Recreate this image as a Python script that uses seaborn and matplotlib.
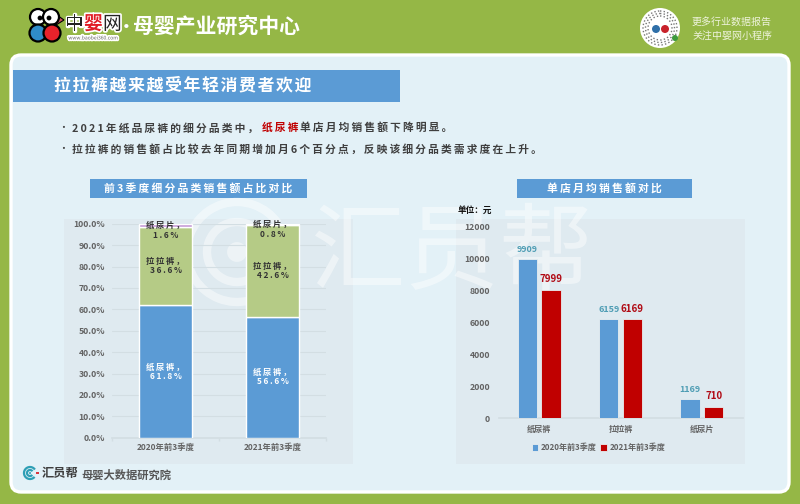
import matplotlib
matplotlib.use("Agg")
import matplotlib.pyplot as plt
import matplotlib.patheffects as pe
import pandas as pd
import seaborn as sns
from matplotlib.patches import Arc, Circle, FancyBboxPatch, Polygon, Rectangle

W, H = 800, 504

# chart data
quarters = ["2020年前3季度", "2021年前3季度"]
share_diaper = [61.8, 56.6]
share_pull = [36.6, 42.6]
share_pad = [1.6, 0.8]

products = ["纸尿裤", "拉拉裤", "纸尿片"]
sales_2020 = [9909, 6159, 1169]
sales_2021 = [7999, 6169, 710]

GREEN = "#95B746"
PANEL = "#E3F1F7"
CHART_BG = "#DFEAF0"
BLUE = "#5B9BD5"
RED = "#C00000"
LIGHT_GREEN = "#B5CB86"
PURPLE = "#C59BD6"
TICK = "#636363"
DARK = "#3F3F3F"

sns.set_theme(style="white")
plt.rcParams["font.family"] = ["Noto Sans CJK SC", "DejaVu Sans"]
plt.rcParams["axes.unicode_minus"] = False


def spaced(text, gap="\u2009"):
    # the original has wide letter spacing
    return gap.join(text)


def px_axes(fig, x0, y0, x1, y1):
    return fig.add_axes([x0 / W, 1 - y1 / H, (x1 - x0) / W, (y1 - y0) / H])


def ring_logo(ax, cx, cy, radii, lw, color, alpha=1.0):
    for r in radii:
        ax.add_patch(Arc((cx, cy), 2 * r, 2 * r, theta1=40, theta2=325, lw=lw, color=color, alpha=alpha))
    ax.add_patch(Circle((cx, cy), radii[-1] * 0.33, color=color, alpha=alpha, lw=0))


fig = plt.figure(figsize=(W / 100, H / 100), dpi=100, facecolor=GREEN)

# page furniture, in pixel coordinates
bg = fig.add_axes([0, 0, 1, 1])
bg.set_xlim(0, W)
bg.set_ylim(H, 0)
bg.axis("off")

bg.add_patch(FancyBboxPatch((11, 55), 778, 437, boxstyle="round,pad=0,rounding_size=10",
                            fc=PANEL, ec="white", lw=2.4))
bg.add_patch(Rectangle((13, 70), 387, 32, fc=BLUE, lw=0))
bg.text(54, 85, spaced("拉拉裤越来越受年轻消费者欢迎", "\u200a"), color="white", fontsize=12.2,
        fontweight="bold", ha="left", va="center")

# bullets
bg.text(63, 128, "•", color=DARK, fontsize=7, ha="center", va="center")
bg.text(63, 149, "•", color=DARK, fontsize=7, ha="center", va="center")
seg1 = bg.text(72, 128, spaced("2021年纸品尿裤的细分品类中，"), color=DARK, fontsize=7.72,
               fontweight="bold", ha="left", va="center")
seg2 = bg.annotate(spaced("纸尿裤"), xy=(1, 0.5), xycoords=seg1, xytext=(2.5, 0), textcoords="offset points",
                   color=RED, fontsize=7.72, fontweight="bold", ha="left", va="center")
bg.annotate(spaced("单店月均销售额下降明显。"), xy=(1, 0.5), xycoords=seg2, xytext=(1.5, 0),
            textcoords="offset points", color=DARK, fontsize=7.72, fontweight="bold",
            ha="left", va="center")
bg.text(72, 149, spaced("拉拉裤的销售额占比较去年同期增加月6个百分点，反映该细分品类需求度在上升。"),
        color=DARK, fontsize=7.72, fontweight="bold", ha="left", va="center")

# chart cards and titles
bg.add_patch(Rectangle((64, 219), 289, 245, fc=CHART_BG, lw=0))
bg.add_patch(Rectangle((456, 219), 289, 245, fc=CHART_BG, lw=0))
bg.add_patch(Rectangle((90, 179), 217, 19, fc=BLUE, lw=0))
bg.add_patch(Rectangle((517, 179), 175, 19, fc=BLUE, lw=0))
bg.text(198.5, 188.5, spaced("前3季度细分品类销售额占比对比"), color="white", fontsize=7.8,
        fontweight="bold", ha="center", va="center")
bg.text(604.5, 188.5, spaced("单店月均销售额对比"), color="white", fontsize=7.8,
        fontweight="bold", ha="center", va="center")

# watermark
ring_logo(bg, 237, 252, [50, 30], 6, "white", 0.45)
bg.text(452, 255, "汇员帮", color="white", alpha=0.45, fontsize=68, fontweight=500, ha="center", va="center")

# header logo
halo = [pe.withStroke(linewidth=2.5, foreground="white")]
bg.add_patch(Polygon([[54, 13], [64, 20], [56, 25]], fc="#C8505A", ec="black", lw=0.8))
for cx, cy, r, c in [(38, 17, 8, "white"), (51, 17, 8, "white"), (38, 33, 8.5, "#2F8CC8"), (52, 33, 8.5, "#E8222B")]:
    bg.add_patch(Circle((cx, cy), r, fc=c, ec="black", lw=1.6))
bg.add_patch(Circle((40, 18), 2.4, fc="black", lw=0))
bg.add_patch(Circle((49, 18), 2.4, fc="black", lw=0))
bg.text(65, 24, "中", color="#222222", fontsize=13.5, ha="left", va="center", path_effects=halo)
bg.text(84, 24, "婴", color="#E01B24", fontsize=13.5, fontweight="bold", ha="left", va="center", path_effects=halo)
bg.text(103, 24, "网", color="#222222", fontsize=13.5, ha="left", va="center", path_effects=halo)
bg.text(93, 38, "www.baobei360.com", color="#666666", fontsize=3.6, ha="center", va="center", path_effects=halo)
bg.text(126, 27, "·", color="white", fontsize=12, fontweight="bold", ha="center", va="center")
bg.text(133, 26, "母婴产业研究中心", color="white", fontsize=15, fontweight="bold", ha="left", va="center")

# mini program code
bg.add_patch(Circle((660, 28), 20, fc="white", lw=0))
for r in (17, 14.5, 12):
    bg.add_patch(Circle((660, 28), r, fc="none", ec="#777777", lw=1, ls=(0, (1, 1.6))))
bg.add_patch(Circle((656, 29), 4, fc="#2F6FA8", lw=0))
bg.add_patch(Circle((665, 29), 4, fc="#C8222B", lw=0))
bg.add_patch(Circle((675, 38), 3, fc="#3C9A3C", lw=0))
bg.text(692, 22, "更多行业数据报告", color="#EEF3DC", fontsize=7.2, ha="left", va="center")
bg.text(692, 36, "关注中婴网小程序", color="#EEF3DC", fontsize=7.2, ha="left", va="center")

# footer logo
ring_logo(bg, 30, 473, [6, 3], 1.6, "#2E9FB5")
bg.add_patch(Rectangle((35.5, 472.4), 3.5, 1.4, fc="#D9363E", lw=0))
bg.text(42, 474, "汇员帮", color=DARK, fontsize=8.8, fontweight="bold", ha="left", va="center")
bg.text(81, 475, "母婴大数据研究院", color="#555555", fontsize=8.1, fontweight="bold", ha="left", va="center")

bg.text(492, 210, "单位：元", color="#111111", fontsize=6.2, fontweight="bold", ha="right", va="center")

# left chart: stacked share
ax1 = px_axes(fig, 112, 223.7, 326, 437.7)
ax1.patch.set_alpha(0)
stack = [("纸尿裤", share_diaper, BLUE, "white", 0),
         ("拉拉裤", share_pull, LIGHT_GREEN, "#333333", 0),
         ("纸尿片", share_pad, PURPLE, "#333333", -2.3)]
base = [0.0, 0.0]
for name, vals, col, txt, nudge in stack:
    sns.barplot(x=quarters, y=vals, bottom=base, color=col, saturation=1, width=0.5,
                edgecolor="white", linewidth=1, ax=ax1, zorder=3)
    for i, v in enumerate(vals):
        ax1.text(i, base[i] + v / 2 + nudge, spaced(f"{name}，") + "\n" + spaced(f"{v}%"), color=txt,
                 fontsize=6, fontweight="bold", ha="center", va="center", linespacing=1.05, zorder=4)
    base = [b + v for b, v in zip(base, vals)]

ax1.set_ylim(0, 100)
ax1.set_yticks(range(0, 101, 10))
ax1.set_yticklabels([f"{t}.0%" for t in range(0, 101, 10)])
ax1.set_ylabel("")
ax1.grid(axis="y", color="#D3DEE3", lw=0.8, zorder=1)
ax1.set_axisbelow(True)
sns.despine(ax=ax1, left=True, top=True, right=True)
ax1.spines["bottom"].set_color("#D3DEE3")
ax1.set_xticks([-0.5, 0.5, 1.5], minor=True)
ax1.tick_params(axis="x", which="minor", bottom=True, length=2, color="#D3DEE3")
ax1.tick_params(axis="y", length=0, pad=5, labelsize=6.2, labelcolor=TICK)
ax1.tick_params(axis="x", which="major", length=0, pad=4, labelsize=6, labelcolor=TICK)

# right chart: grouped sales
ax2 = px_axes(fig, 498.5, 226, 742.5, 418)
ax2.patch.set_alpha(0)
sales = pd.DataFrame({
    "product": products * 2,
    "sales": sales_2020 + sales_2021,
    "period": [quarters[0]] * 3 + [quarters[1]] * 3,
})
sns.barplot(data=sales, x="product", y="sales", hue="period", palette=[BLUE, RED], saturation=1,
            width=0.58, gap=0.18, edgecolor="#E8EEF0", linewidth=0.6, ax=ax2, zorder=3)
ax2.bar_label(ax2.containers[0], fmt="%d", padding=4, color="#4E9DB4", fontsize=6.4, fontweight="bold")
ax2.bar_label(ax2.containers[1], fmt="%d", padding=4, color="#B00A14", fontsize=7, fontweight="bold")

ax2.set_ylim(0, 12000)
ax2.set_yticks(range(0, 12001, 2000))
ax2.set_xlabel("")
ax2.set_ylabel("")
sns.despine(ax=ax2, left=True, top=True, right=True)
ax2.spines["bottom"].set_color("#D3DEE3")
ax2.tick_params(axis="y", length=0, pad=6, labelsize=6.3, labelcolor=TICK)
ax2.tick_params(axis="x", length=0, pad=5, labelsize=5.9, labelcolor=TICK)
sns.move_legend(ax2, "lower center", bbox_to_anchor=(0.41, -0.2), ncol=2, frameon=False, title=None,
                fontsize=5.8, labelcolor=TICK, handlelength=0.8, handleheight=0.8,
                handletextpad=0.4, columnspacing=0.4, borderpad=0)

for ax in (ax1, ax2):
    plt.setp(ax.get_xticklabels() + ax.get_yticklabels(), fontweight="bold")
plt.setp(ax2.get_legend().get_texts(), fontweight="bold")

fig.savefig("out.png", dpi=100, facecolor=GREEN)
